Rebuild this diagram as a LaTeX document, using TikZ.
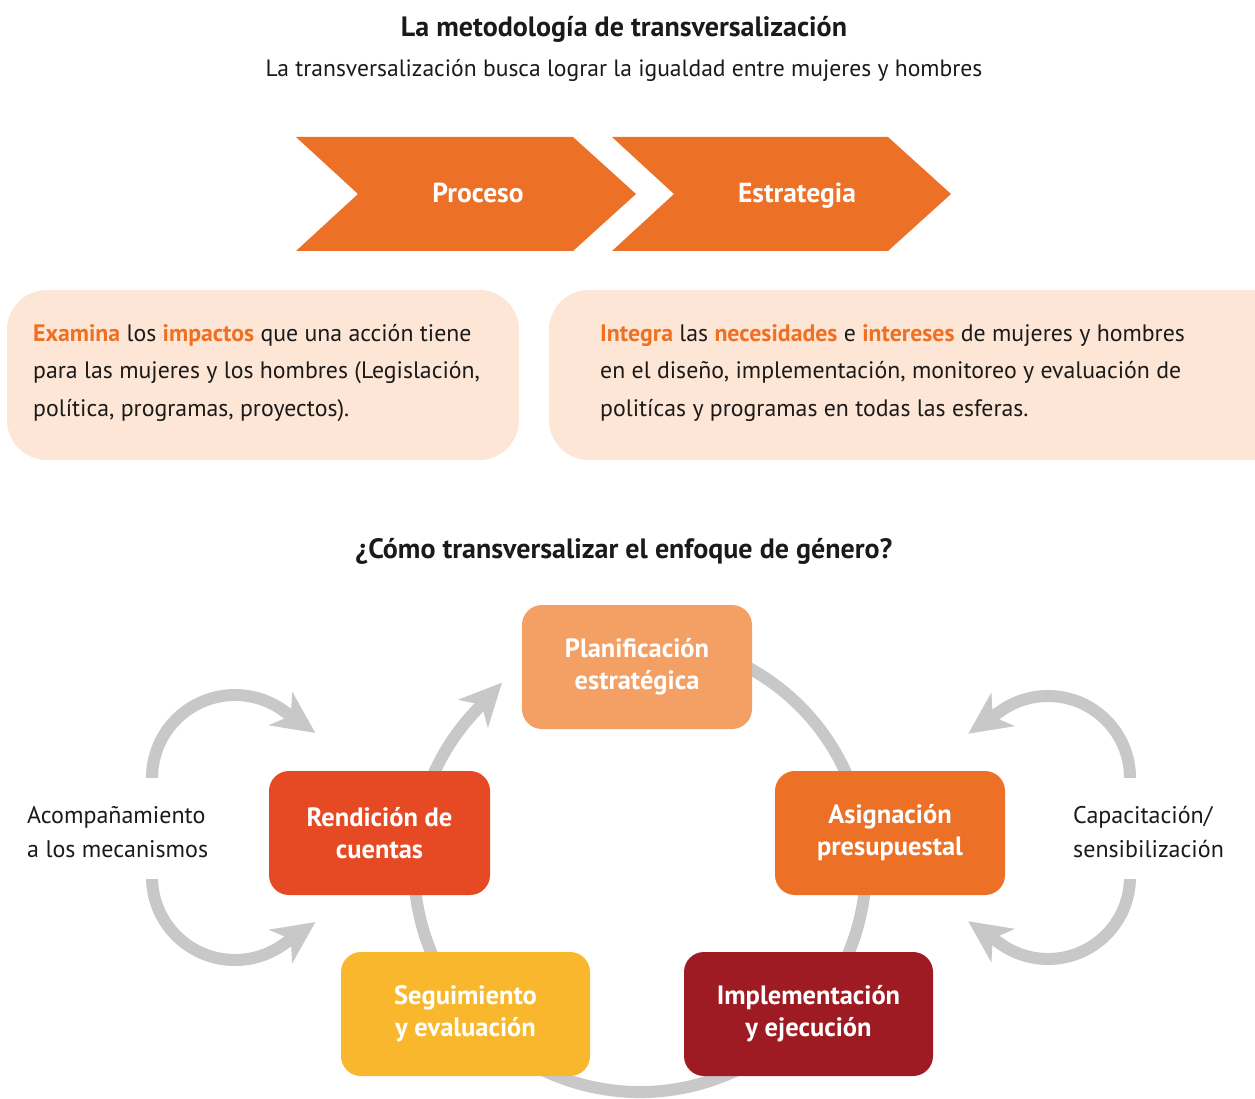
\documentclass[tikz,border=0pt]{standalone}
\usepackage{fontspec}
\setmainfont{PT Sans}
\usetikzlibrary{arrows.meta,calc}
\definecolor{orch}{HTML}{ED7027}
\definecolor{peach}{HTML}{FDE6D5}
\definecolor{ortext}{HTML}{EE7023}
\definecolor{cplan}{HTML}{F4A064}
\definecolor{crend}{HTML}{E64A25}
\definecolor{casig}{HTML}{ED7027}
\definecolor{cseg}{HTML}{F9B72D}
\definecolor{cimpl}{HTML}{9E1B23}
\definecolor{gr}{HTML}{C8C8C8}
\definecolor{txt}{HTML}{1A1A1A}
\newcommand{\hl}[1]{\textbf{\color{ortext}#1}}
\tikzset{
  chev/.style={fill=orch, draw=none},
  chevtext/.style={anchor=base, inner sep=0pt, text=white, font=\fontsize{27.5}{30}\selectfont\bfseries},
  infobox/.style={fill=peach, draw=none, rounded corners=40pt},
  bodyline/.style={anchor=base west, inner sep=0pt, text=txt, font=\fontsize{23.8}{28}\selectfont},
  cyclebox/.style={draw=none, rounded corners=20pt, minimum width=#1, minimum height=124pt, inner sep=0pt,
    text=white, align=center, font=\fontsize{26.5}{32}\selectfont\bfseries},
  grayarrow/.style={draw=gr, line width=12pt, -{Stealth[length=42pt, width=40pt, inset=12pt]}},
  sidelabel/.style={anchor=base west, inner sep=0pt, text=txt, font=\fontsize{24}{28}\selectfont},
  titletext/.style={anchor=base, inner sep=0pt, text=txt, font=\fontsize{28}{32}\selectfont\bfseries},
}
\begin{document}
\begin{tikzpicture}[x=1pt, y=1pt, yscale=-1]
\useasboundingbox (0,0) rectangle (1255,1099);
\fill[white] (0,0) rectangle (1255,1099);

% titles
\node[titletext] (t1) at (624,37) {La metodología de transversalización};
\node[anchor=base, inner sep=0pt, text=txt, font=\fontsize{23.6}{26}\selectfont] (t2) at (624,77) {La transversalización busca lograr la igualdad entre mujeres y hombres};

% chevrons
\path[chev] (296,137) -- (573,137) -- (636,194) -- (573,251) -- (296,251) -- (358,194) -- cycle;
\path[chev] (612,137) -- (888,137) -- (951,194) -- (888,251) -- (612,251) -- (674,194) -- cycle;
\node[chevtext] (proc) at (478,203) {Proceso};
\node[chevtext] (estr) at (797,203) {Estrategia};

% info boxes
\path[infobox] (7,290) rectangle (519,460);
\path[infobox] (549,290) rectangle (1300,460);
\node[bodyline] (l1) at (33,341) {\hl{Examina} los \hl{impactos} que una acción tiene};
\node[bodyline] (l2) at (33,378.5) {para las mujeres y los hombres (Legislación,};
\node[bodyline] (l3) at (33,416) {política, programas, proyectos).};
\node[bodyline] (r1) at (600,341) {\hl{Integra} las \hl{necesidades} e \hl{intereses} de mujeres y hombres};
\node[bodyline] (r2) at (600,378.5) {en el diseño, implementación, monitoreo y evaluación de};
\node[bodyline] (r3) at (600,416) {politícas y programas en todas las esferas.};

% subtitle 2
\node[titletext] (t3) at (624,558) {¿Cómo transversalizar el enfoque de género?};

% cycle
\coordinate (c) at (640,866);
\draw[grayarrow] ($(c)+(-110:226)$) arc (-110:223:226) -- ++(313:40);

% side arrows
\draw[grayarrow] (152,790) -- (152,778) arc (180:305:83) -- ++(35:40);
\draw[grayarrow] (152,866) -- (152,877) arc (180:55:83) -- ++(-35:40);
\draw[grayarrow] (1130,790) -- (1130,778) arc (0:-125:82) -- ++(145:40);
\draw[grayarrow] (1130,866) -- (1130,877) arc (0:125:82) -- ++(-145:40);

% white gaps for side labels
\fill[white] (100,778) rectangle (240,879);
\fill[white] (1060,778) rectangle (1200,879);
\node[sidelabel] (a1) at (27,823) {Acompañamiento};
\node[sidelabel] (a2) at (27,857) {a los mecanismos};
\node[sidelabel] (b1) at (1073,823) {Capacitación/};
\node[sidelabel] (b2) at (1073,857) {sensibilización};

% cycle boxes
\node[cyclebox=230pt, fill=cplan] (plan) at (637,667) {Planificación\\estratégica};
\node[cyclebox=221pt, fill=crend] (rend) at (379.5,833) {Rendición de\\cuentas};
\node[cyclebox=230pt, fill=casig] (asig) at (890,833) {Asignación\\presupuestal};
\node[cyclebox=249pt, fill=cseg] (seg) at (465.5,1014) {Seguimiento\\y evaluación};
\node[cyclebox=249pt, fill=cimpl] (impl) at (808.5,1014) {Implementación\\y ejecución};
\end{tikzpicture}
\end{document}
